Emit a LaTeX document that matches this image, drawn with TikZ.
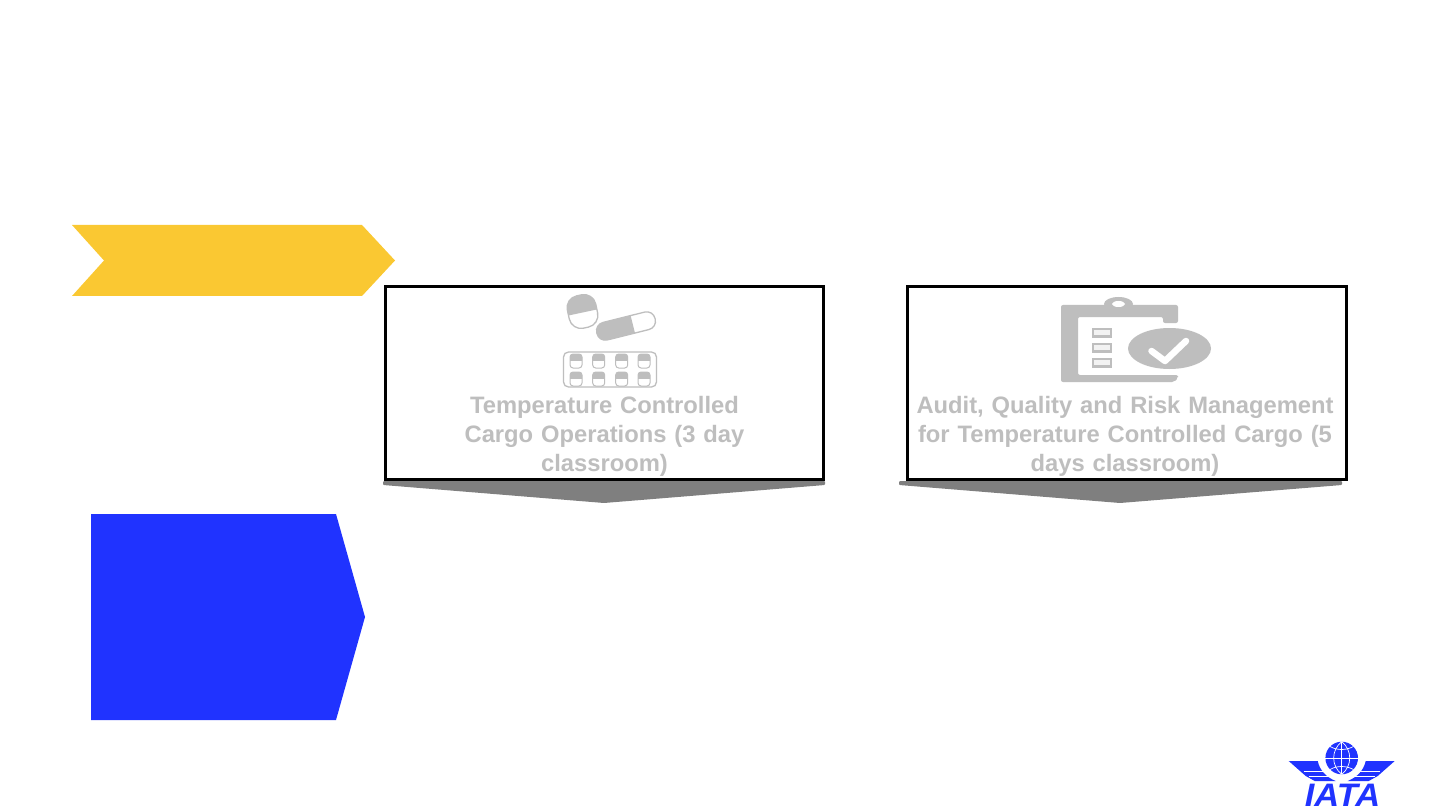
\documentclass[tikz,border=0pt]{standalone}
\usepackage{fontspec}
\setmainfont{Liberation Sans}
\newfontfamily\logofont[FakeStretch=1.06]{Liberation Sans}
\usetikzlibrary{positioning}
\definecolor{iatablue}{HTML}{2033FF}
\definecolor{iatayellow}{HTML}{FAC832}
\definecolor{icongray}{HTML}{BEBEBE}
\definecolor{pointgray}{HTML}{7F7F7F}

\begin{document}
\begin{tikzpicture}[
    x=1pt, y=-1pt,
    course/.style={rectangle, draw=black, line width=3pt, fill=white, minimum width=438.5pt,
                   minimum height=193pt, inner sep=0pt},
    caption/.style={text width=430pt, align=center, font=\bfseries\fontsize{23.75}{29}\selectfont,
                    text=icongray, inner sep=0pt},
    pointer/.style={fill=pointgray, rounded corners=1pt},
    icon/.style={fill=icongray},
    iconline/.style={draw=icongray, line width=1.3pt},
]
\useasboundingbox (0,0) rectangle (1440,810);

% Banners
\fill[iatayellow] (72,225) -- (362,225) -- (395,260.5) -- (362,296) -- (72,296) -- (104,260.5) -- cycle;
\fill[iatablue] (91,514) -- (336,514) -- (365,617) -- (336,720) -- (91,720) -- cycle;

% Pointers
\fill[pointer] (383,481) -- (825,481) -- (825,485) -- (604,503) -- (383,485) -- cycle;
\fill[pointer] (899,481) -- (1342,481) -- (1342,485) -- (1120,503) -- (899,485) -- cycle;

% Courses
\node[course] (ops) at (604.25,383) {};
\node[course, right=81pt of ops] (audit) {};
\node[caption, anchor=north] (opstext) at (604.5,396)
    {Temperature Controlled\\Cargo Operations (3 day\\classroom)};
\node[caption, anchor=north] (audittext) at (1125,396)
    {Audit, Quality and Risk Management\\for Temperature Controlled Cargo (5\\days classroom)};

% Pills
\begin{scope}[shift={(582.5,311.5)}, rotate=12]
  \begin{scope}
    \clip (-17,-19) rectangle (17,1);
    \fill[icon, rounded corners=12pt] (-14.5,-16.5) rectangle (14.5,16.5);
  \end{scope}
  \draw[iconline, rounded corners=12pt] (-14.5,-16.5) rectangle (14.5,16.5);
\end{scope}
\begin{scope}[shift={(626,326)}, rotate=14]
  \begin{scope}
    \clip (-32,-11) rectangle (7,11);
    \fill[icon, rounded corners=8.5pt] (-30,-9) rectangle (30,9);
  \end{scope}
  \draw[iconline, rounded corners=8.5pt] (-30,-9) rectangle (30,9);
\end{scope}

% Blister pack
\draw[iconline, rounded corners=5pt] (563.5,352) rectangle (656.5,387);
\foreach \py in {361,379}
  \foreach \px in {576,598.7,621.7,644} {
    \begin{scope}[shift={(\px,\py)}]
      \begin{scope}
        \clip (-7,-8) rectangle (7,-1);
        \fill[icon, rounded corners=3pt] (-6,-7) rectangle (6,7);
      \end{scope}
      \draw[iconline, line width=1pt, rounded corners=3pt] (-6,-7) rectangle (6,7);
    \end{scope}
  }

% Clipboard
\fill[icon, rounded corners=2pt] (1061,305) -- (1178,305) -- (1178,323) -- (1163,323) -- (1163,317)
  -- (1078,317) -- (1078,375) -- (1178,375) -- (1178,378) -- (1174,382) -- (1061,382) -- cycle;
\fill[icon] (1118.5,304) ellipse (14.5pt and 7pt);
\fill[white] (1118.5,304) ellipse (6.5pt and 3pt);
\foreach \py in {329,344,359}
  \draw[iconline, line width=2.5pt, fill=white!80!icongray] (1093,\py) rectangle (1111,\py+7.5);
\fill[icon] (1169.5,348.5) ellipse (41.5pt and 20.5pt);
\draw[white, line width=6.5pt, line cap=round, line join=round] (1151.5,351) -- (1165,361) -- (1186,341);

% Logo
\fill[iatablue] (1341.7,758) circle (16.3pt);
\begin{scope}[draw=white, line width=0.7pt]
  \draw (1325.4,758) -- (1358,758);
  \draw (1330,746.5) .. controls (1337,750.5) and (1346,750.5) .. (1353.4,746.5);
  \draw (1330,769.5) .. controls (1337,765.5) and (1346,765.5) .. (1353.4,769.5);
  \draw (1341.7,741.7) -- (1341.7,774.3);
  \draw (1341.7,741.7) .. controls (1331,750) and (1331,766) .. (1341.7,774.3);
  \draw (1341.7,741.7) .. controls (1352.4,750) and (1352.4,766) .. (1341.7,774.3);
\end{scope}
\foreach \flip in {1,-1} {
  \begin{scope}[shift={(1341.7,0)}, xscale=\flip]
    \fill[iatablue] (-53,761) -- (-24,761) .. controls (-22,770) and (-16,777) .. (-6,781)
      -- (-27,781) -- (-36,776) -- cycle;
    \draw[white, line width=0.7pt] (-38,771) -- (-18,771);
    \draw[white, line width=0.7pt] (-33,776) -- (-13,776);
  \end{scope}
}
\node[text=iatablue, font=\logofont\bfseries\itshape\fontsize{32.5}{33}\selectfont, inner sep=0pt, anchor=base] (logotext) at (1342.5,806) {IATA};

\end{tikzpicture}
\end{document}
